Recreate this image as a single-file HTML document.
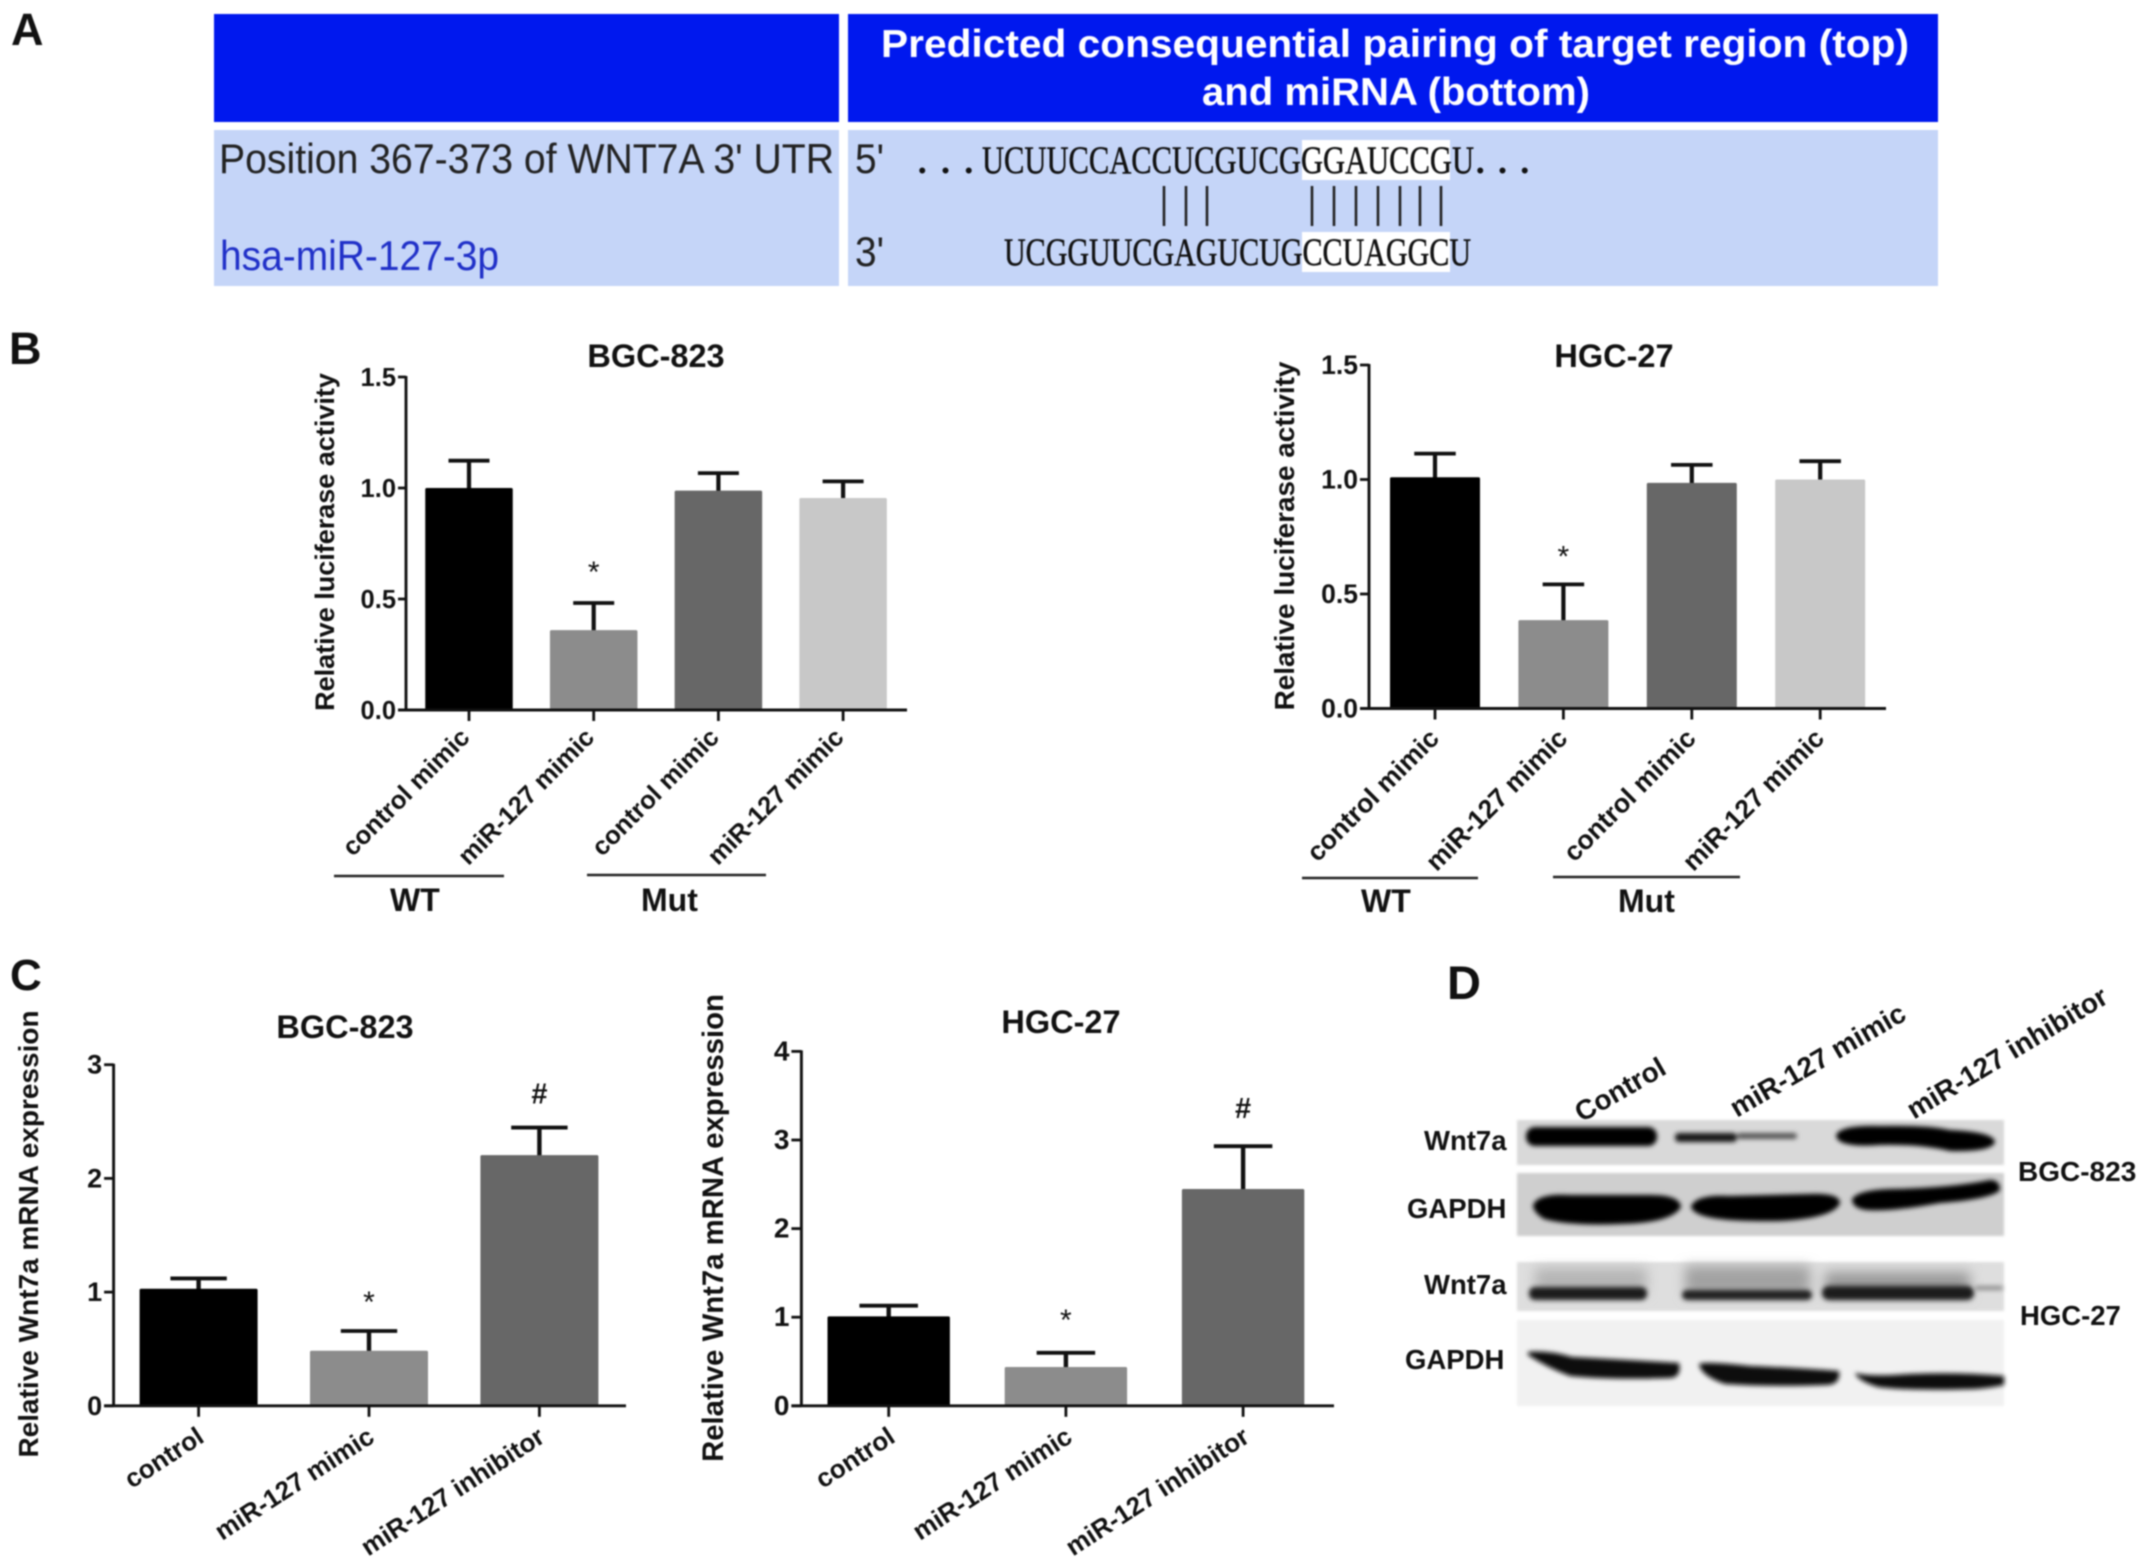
<!DOCTYPE html>
<html lang="en">
<head>
<meta charset="utf-8">
<title>miR-127 targets WNT7A figure</title>
<style>
html,body{margin:0;padding:0;background:#fff;width:2150px;height:1566px;overflow:hidden}
svg{display:block;filter:blur(0.75px)}
text{font-family:"Liberation Sans",Arial,sans-serif;fill:#111}
.b{font-weight:bold}
.seq{font-family:"Liberation Serif","Times New Roman",serif;fill:#111;stroke:#111;stroke-width:0.5}
</style>
</head>
<body>
<svg id="figure" xmlns="http://www.w3.org/2000/svg" width="2150" height="1566" viewBox="0 0 2150 1566">
<defs>
<filter id="bandBlur" x="-20%" y="-80%" width="140%" height="260%"><feGaussianBlur stdDeviation="2.4"/></filter>
<filter id="softBlur" x="-20%" y="-80%" width="140%" height="260%"><feGaussianBlur stdDeviation="6"/></filter>
<filter id="edgeBlur" x="-5%" y="-10%" width="110%" height="120%"><feGaussianBlur stdDeviation="1.4"/></filter>
</defs>
<rect width="2150" height="1566" fill="#fff"/>

<text class="b" x="11" y="45" font-size="45">A</text>
<text class="b" x="9" y="364" font-size="45">B</text>
<text class="b" x="10" y="990" font-size="44">C</text>
<text class="b" x="1447" y="999" font-size="47">D</text>

<g>
<rect x="214" y="14" width="625" height="108" fill="#0018ee"/>
<rect x="848" y="14" width="1090" height="108" fill="#0018ee"/>
<rect x="214" y="130" width="625" height="156" fill="#c5d5f8"/>
<rect x="848" y="130" width="1090" height="156" fill="#c5d5f8"/>
<text class="b" x="881" y="57" font-size="39" style="fill:#fff" textLength="1028" lengthAdjust="spacingAndGlyphs">Predicted consequential pairing of target region (top)</text>
<text class="b" x="1202" y="105" font-size="39" style="fill:#fff" textLength="388" lengthAdjust="spacingAndGlyphs">and miRNA (bottom)</text>
<text x="219" y="173" font-size="42" style="fill:#222" textLength="615" lengthAdjust="spacingAndGlyphs">Position 367-373 of WNT7A 3' UTR</text>
<text x="220" y="270" font-size="42" style="fill:#2030c8" textLength="279" lengthAdjust="spacingAndGlyphs">hsa-miR-127-3p</text>
<text x="855" y="173" font-size="42" style="fill:#222" textLength="29" lengthAdjust="spacingAndGlyphs">5'</text>
<text x="855" y="266" font-size="42" style="fill:#222" textLength="29" lengthAdjust="spacingAndGlyphs">3'</text>
<rect x="1302" y="140" width="148" height="40" fill="#fff"/>
<rect x="1302" y="232" width="148" height="40" fill="#fff"/>
<text class="seq" font-weight="bold" x="918" y="173" font-size="34" textLength="55">...</text>
<text class="seq" x="982" y="173" font-size="39" textLength="492" lengthAdjust="spacingAndGlyphs">UCUUCCACCUCGUCGGGAUCCGU</text>
<text class="seq" font-weight="bold" x="1476" y="173" font-size="34" textLength="53">...</text>
<text class="seq" x="1004" y="265" font-size="39" textLength="467" lengthAdjust="spacingAndGlyphs">UCGGUUCGAGUCUGCCUAGGCU</text>
<g stroke="#222" stroke-width="2.6">
<line x1="1164" x2="1164" y1="186" y2="226"/>
<line x1="1186" x2="1186" y1="186" y2="226"/>
<line x1="1207" x2="1207" y1="186" y2="226"/>
<line x1="1312" x2="1312" y1="186" y2="226"/>
<line x1="1334" x2="1334" y1="186" y2="226"/>
<line x1="1356" x2="1356" y1="186" y2="226"/>
<line x1="1378" x2="1378" y1="186" y2="226"/>
<line x1="1400" x2="1400" y1="186" y2="226"/>
<line x1="1420" x2="1420" y1="186" y2="226"/>
<line x1="1441" x2="1441" y1="186" y2="226"/>
</g>
</g>

<g id="chart-b-left"></g>
<g id="chart-b-right"></g>
<g id="chart-c-left"></g>
<g id="chart-c-right"></g>

<g>
<line x1="334" x2="504" y1="876" y2="876" stroke="#222" stroke-width="2.6"/>
<line x1="587" x2="766" y1="875" y2="875" stroke="#222" stroke-width="2.6"/>
<text class="b" x="390" y="911" font-size="32">WT</text>
<text class="b" x="641" y="911" font-size="32">Mut</text>
<line x1="1302" x2="1478" y1="878" y2="878" stroke="#222" stroke-width="2.6"/>
<line x1="1553" x2="1740" y1="877" y2="877" stroke="#222" stroke-width="2.6"/>
<text class="b" x="1361" y="912" font-size="32">WT</text>
<text class="b" x="1618" y="912" font-size="32">Mut</text>
</g>

<g>
<text class="b" font-size="28" text-anchor="end" transform="translate(1668 1073) rotate(-30)">Control</text>
<text class="b" font-size="28" text-anchor="end" transform="translate(1908 1019) rotate(-30)">miR-127 mimic</text>
<text class="b" font-size="28" text-anchor="end" transform="translate(2110 1002) rotate(-31)">miR-127 inhibitor</text>

<rect x="1517" y="1120" width="487" height="45" fill="#d9d9d9" filter="url(#edgeBlur)"/>
<g filter="url(#bandBlur)">
<rect x="1526" y="1127" width="131" height="19" rx="9" fill="#050505"/>
<rect x="1675" y="1133" width="62" height="9" rx="4" fill="#161616"/>
<rect x="1737" y="1133" width="60" height="6" rx="3" fill="#555"/>
<path d="M1836 1136 Q1838 1125 1880 1126 Q1930 1125 1950 1130 Q1994 1132 1995 1142 Q1992 1152 1950 1151 Q1920 1144 1880 1145 Q1838 1148 1836 1136Z" fill="#030303"/>
</g>

<rect x="1517" y="1173" width="487" height="63" fill="#cfcfcf" filter="url(#edgeBlur)"/>
<g filter="url(#bandBlur)">
<path d="M1533 1205 Q1538 1193 1570 1195 L1650 1195 Q1680 1195 1681 1207 Q1672 1223 1620 1224 Q1570 1226 1544 1219 Q1533 1212 1533 1205Z" fill="#030303"/>
<path d="M1691 1206 Q1697 1194 1730 1196 L1810 1194 Q1840 1193 1840 1203 Q1834 1218 1780 1221 Q1720 1222 1701 1215 Q1691 1211 1691 1206Z" fill="#030303"/>
<path d="M1852 1199 Q1858 1190 1890 1189 Q1950 1188 1990 1180 Q2000 1180 2000 1190 Q1992 1199 1940 1203 Q1890 1212 1866 1210 Q1852 1208 1852 1199Z" fill="#030303"/>
</g>

<rect x="1517" y="1262" width="487" height="49" fill="#dedede" filter="url(#edgeBlur)"/>
<g filter="url(#softBlur)">
<rect x="1535" y="1268" width="112" height="26" fill="#b5b5b5"/>
<rect x="1685" y="1266" width="125" height="30" fill="#a2a2a2"/>
<rect x="1825" y="1272" width="145" height="24" fill="#999"/>
</g>
<g filter="url(#bandBlur)">
<rect x="1529" y="1287" width="118" height="13" rx="6" fill="#1e1e1e"/>
<rect x="1682" y="1290" width="130" height="10" rx="5" fill="#242424"/>
<rect x="1822" y="1286" width="152" height="14" rx="7" fill="#1c1c1c"/>
<rect x="1975" y="1286" width="28" height="4" rx="2" fill="#888"/>
</g>

<rect x="1517" y="1320" width="487" height="86" fill="#f1f1f1" filter="url(#edgeBlur)"/>
<g filter="url(#bandBlur)">
<path d="M1528 1352 Q1548 1350 1572 1357 Q1630 1360 1679 1363 Q1682 1377 1670 1378 Q1610 1380 1570 1376 Q1548 1368 1528 1355Z" fill="#0a0a0a"/>
<path d="M1699 1364 Q1705 1361 1750 1366 Q1800 1368 1839 1371 Q1841 1385 1825 1385 Q1770 1387 1725 1384 Q1701 1376 1699 1364Z" fill="#0c0c0c"/>
<path d="M1855 1373 Q1870 1377 1910 1374 Q1960 1372 2004 1376 L2004 1385 Q1990 1388 1975 1389 Q1910 1391 1878 1387 Q1858 1381 1855 1373Z" fill="#101010"/>
</g>

<text class="b" x="1424" y="1150" font-size="27.5">Wnt7a</text>
<text class="b" x="1407" y="1218" font-size="27.5">GAPDH</text>
<text class="b" x="1424" y="1294" font-size="27.5">Wnt7a</text>
<text class="b" x="1405" y="1369" font-size="27.5">GAPDH</text>
<text class="b" x="2018" y="1181" font-size="28">BGC-823</text>
<text class="b" x="2020" y="1325" font-size="27.5">HGC-27</text>
</g>
</svg>

<script>
// Panel B, BGC-823
const lucBgcCategories = ['control mimic', 'miR-127 mimic', 'control mimic', 'miR-127 mimic'];
const lucBgcValues = [1.0, 0.36, 0.988, 0.955];
const lucBgcErrors = [0.123, 0.122, 0.079, 0.075];
const lucBgcMarks = ['', '*', '', ''];
// Panel B, HGC-27
const lucHgcCategories = ['control mimic', 'miR-127 mimic', 'control mimic', 'miR-127 mimic'];
const lucHgcValues = [1.01, 0.386, 0.985, 1.0];
const lucHgcErrors = [0.103, 0.156, 0.079, 0.08];
const lucHgcMarks = ['', '*', '', ''];
// Panel C, BGC-823
const mrnaBgcCategories = ['control', 'miR-127 mimic', 'miR-127 inhibitor'];
const mrnaBgcValues = [1.03, 0.484, 2.205];
const mrnaBgcErrors = [0.09, 0.174, 0.242];
const mrnaBgcMarks = ['', '*', '#'];
// Panel C, HGC-27
const mrnaHgcCategories = ['control', 'miR-127 mimic', 'miR-127 inhibitor'];
const mrnaHgcValues = [1.01, 0.438, 2.447];
const mrnaHgcErrors = [0.12, 0.16, 0.483];
const mrnaHgcMarks = ['', '*', '#'];
// Axis ticks
const lucTicks = [0, 0.5, 1.0, 1.5];
const lucTickLabels = ['0.0', '0.5', '1.0', '1.5'];
const mrnaBgcTicks = [0, 1, 2, 3];
const mrnaBgcTickLabels = ['0', '1', '2', '3'];
const mrnaHgcTicks = [0, 1, 2, 3, 4];
const mrnaHgcTickLabels = ['0', '1', '2', '3', '4'];
const lucFills = ['#000000', '#8c8c8c', '#676767', '#c8c8c8'];
const mrnaFills = ['#000000', '#8c8c8c', '#676767'];

const NS = 'http://www.w3.org/2000/svg';
function make(parent, tag, attrs, text) {
  const node = document.createElementNS(NS, tag);
  for (const key in attrs) node.setAttribute(key, attrs[key]);
  if (text !== undefined) node.textContent = text;
  parent.appendChild(node);
  return node;
}

function drawBarChart(id, data, frame) {
  const root = document.getElementById(id);
  const yScale = v => frame.y0 - v * (frame.y0 - frame.yTop) / data.max;
  const xScale = i => frame.x0 + i * frame.step;
  const ink = '#111';

  data.values.forEach((value, i) => {
    const top = yScale(value);
    const capY = yScale(value + data.errors[i]);
    const cx = xScale(i);

    const stem = make(root, 'line', {x1: cx, x2: cx, y1: top + 2, y2: capY, stroke: ink, 'stroke-width': frame.stem});
    
    

    const cap = make(root, 'line', {x1: cx - frame.cap / 2, x2: cx + frame.cap / 2, y1: capY, y2: capY, stroke: ink, 'stroke-width': 3.8});
    
    

    const bar = make(root, 'rect', {x: cx - frame.barWidth / 2, y: top, width: frame.barWidth, height: frame.y0 - top, fill: data.fills[i], rx: 1.5});
    
    

    if (data.marks[i]) {
      const isHash = data.marks[i] === '#';
      const mark = make(root, 'text', {'class': isHash ? 'b' : '', x: cx, y: capY - (isHash ? 23 : 18) - frame.markLift, 'text-anchor': 'middle', 'font-size': isHash ? 29 : 30}, data.marks[i]);
      
      
    }

    const tick = make(root, 'line', {x1: cx, x2: cx, y1: frame.y0, y2: frame.y0 + 11, stroke: ink, 'stroke-width': 2.8});
    
    

    const lx = cx + frame.labelDx;
    const label = make(root, 'text', {'class': 'b', 'font-size': frame.labelSize, 'text-anchor': 'end', transform: 'translate(' + lx + ' ' + frame.labelY + ') rotate(' + frame.labelAngle + ')'}, data.categories[i]);
    
    
  });

  const yAxis = make(root, 'line', {x1: frame.axisX, x2: frame.axisX, y1: frame.yTop - 1, y2: frame.y0 + 1, stroke: ink, 'stroke-width': 2.9});
  
  

  const xAxis = make(root, 'line', {x1: frame.axisX - frame.tickLen, x2: frame.xEnd, y1: frame.y0, y2: frame.y0, stroke: ink, 'stroke-width': 2.9});
  
  

  data.ticks.forEach((value, i) => {
    const y = yScale(value);
    const tick = make(root, 'line', {x1: frame.axisX - frame.tickLen, x2: frame.axisX, y1: y, y2: y, stroke: ink, 'stroke-width': 2.8});
    
    

    const tickLabel = make(root, 'text', {'class': 'b', x: frame.axisX - frame.tickLen - 2, y: y + 9, 'text-anchor': 'end', 'font-size': frame.tickSize}, data.tickLabels[i]);
    
    
  });

  const title = make(root, 'text', {'class': 'b', x: frame.titleX, y: frame.titleY, 'text-anchor': 'middle', 'font-size': 32.5}, data.title);
  
  

  const yTitle = make(root, 'text', {'class': 'b', 'font-size': frame.yTitleSize, 'text-anchor': 'middle', transform: 'translate(' + frame.yTitleX + ' ' + frame.yTitleY + ') rotate(-90)'}, data.yTitle);
  
  
}

drawBarChart('chart-b-left',
  {title: 'BGC-823', yTitle: 'Relative luciferase activity', max: 1.5, categories: lucBgcCategories, values: lucBgcValues, errors: lucBgcErrors, marks: lucBgcMarks, ticks: lucTicks, tickLabels: lucTickLabels, fills: lucFills},
  {x0: 469, step: 124.7, barWidth: 87.5, cap: 41, stem: 4.2, y0: 710, yTop: 377, axisX: 406, xEnd: 907, tickLen: 8, tickSize: 25.5, labelSize: 25.5, labelDx: 2, labelY: 739, labelAngle: -45, markLift: 3, titleX: 656, titleY: 367, yTitleX: 334, yTitleY: 542, yTitleSize: 27});
drawBarChart('chart-b-right',
  {title: 'HGC-27', yTitle: 'Relative luciferase activity', max: 1.5, categories: lucHgcCategories, values: lucHgcValues, errors: lucHgcErrors, marks: lucHgcMarks, ticks: lucTicks, tickLabels: lucTickLabels, fills: lucFills},
  {x0: 1435, step: 128.4, barWidth: 90, cap: 41.5, stem: 4.2, y0: 708.5, yTop: 365, axisX: 1369, xEnd: 1886, tickLen: 9, tickSize: 26.5, labelSize: 26.5, labelDx: 5.5, labelY: 740, labelAngle: -45, markLift: 0, titleX: 1614, titleY: 367, yTitleX: 1294, yTitleY: 536, yTitleSize: 27.9});
drawBarChart('chart-c-left',
  {title: 'BGC-823', yTitle: 'Relative Wnt7a mRNA expression', max: 3, categories: mrnaBgcCategories, values: mrnaBgcValues, errors: mrnaBgcErrors, marks: mrnaBgcMarks, ticks: mrnaBgcTicks, tickLabels: mrnaBgcTickLabels, fills: mrnaFills},
  {x0: 198.6, step: 170.4, barWidth: 118, cap: 56.4, stem: 4.4, y0: 1405.8, yTop: 1064.7, axisX: 113.6, xEnd: 626, tickLen: 9.5, tickSize: 27, labelSize: 26, labelDx: 7, labelY: 1441, labelAngle: -33, markLift: 1, titleX: 345, titleY: 1038, yTitleX: 38, yTitleY: 1234, yTitleSize: 28});
drawBarChart('chart-c-right',
  {title: 'HGC-27', yTitle: 'Relative Wnt7a mRNA expression', max: 4, categories: mrnaHgcCategories, values: mrnaHgcValues, errors: mrnaHgcErrors, marks: mrnaHgcMarks, ticks: mrnaHgcTicks, tickLabels: mrnaHgcTickLabels, fills: mrnaFills},
  {x0: 888.7, step: 177.2, barWidth: 122.4, cap: 58.5, stem: 4.4, y0: 1405.8, yTop: 1051.4, axisX: 801.4, xEnd: 1334, tickLen: 10, tickSize: 28, labelSize: 26, labelDx: 8, labelY: 1441, labelAngle: -33, markLift: 5, titleX: 1061, titleY: 1033, yTitleX: 723, yTitleY: 1228, yTitleSize: 29.3});
</script>
</body>
</html>
